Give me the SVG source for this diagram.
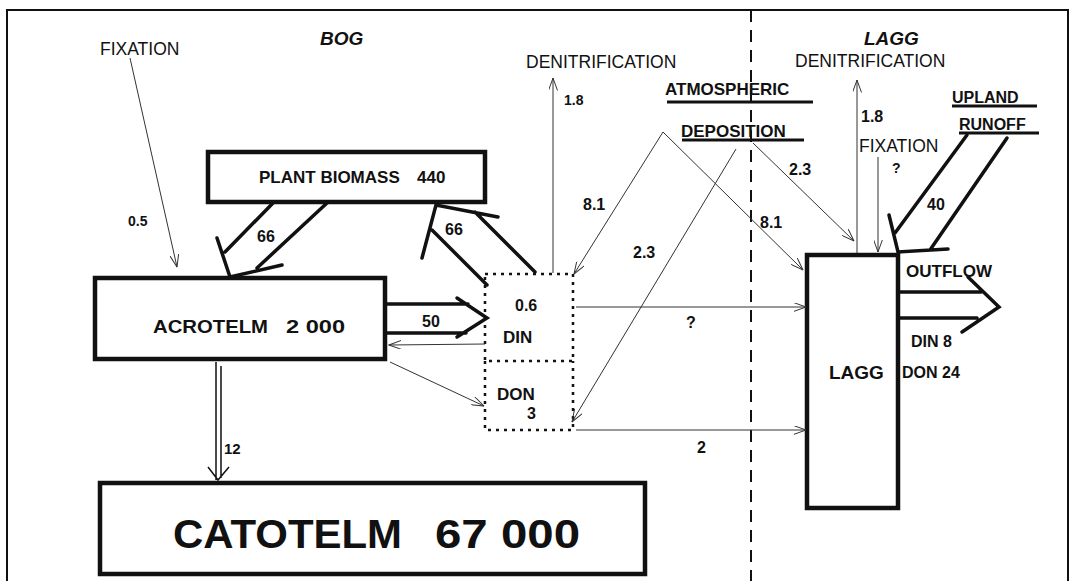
<svg xmlns="http://www.w3.org/2000/svg" width="1074" height="581" viewBox="0 0 1074 581">
<style>
text{font-family:"Liberation Sans",Arial,sans-serif;fill:#111;}
.b{font-weight:bold;}
.reg{font-size:17.5px;}
.title{font-weight:bold;font-style:italic;font-size:19px;}
.lbl{font-weight:bold;font-size:16px;}
.sm{font-weight:bold;font-size:14px;}
.box{fill:#fff;stroke:#111;stroke-width:4.5;}
.dot{fill:none;stroke:#111;stroke-width:2.5;stroke-dasharray:3 5;}
.thin{fill:none;stroke:#333;stroke-width:1;marker-end:url(#ah);}
.broad{fill:none;stroke:#111;stroke-width:3.5;stroke-linecap:round;}
.ul{stroke:#111;stroke-width:3;}
</style>
<defs>
<marker id="ah" viewBox="0 0 13 9" refX="12.5" refY="4.5" markerWidth="13" markerHeight="9" orient="auto" markerUnits="userSpaceOnUse">
<path d="M0,0 L12.5,4.5 L0,9" fill="none" stroke="#333" stroke-width="1"/>
</marker>
</defs>
<rect width="1074" height="581" fill="#fff"/>
<g id="frame">
<path d="M7,590 V10 H1068 V590" fill="none" stroke="#111" stroke-width="2"/>
<line x1="751" y1="10" x2="751" y2="581" stroke="#111" stroke-width="2" stroke-dasharray="12 8"/>
</g>
<g id="region-bog"><text class="title" x="320" y="45">BOG</text></g>
<g id="region-lagg"><text class="title" x="864" y="45">LAGG</text></g>
<g id="fixation-bog"><text class="reg" x="100" y="55">FIXATION</text></g>
<g id="denitrification-bog"><text class="reg" x="526" y="68">DENITRIFICATION</text></g>
<g id="denitrification-lagg"><text class="reg" x="795" y="67">DENITRIFICATION</text></g>
<g id="fixation-lagg"><text class="reg" x="859" y="152">FIXATION</text></g>
<g id="atmospheric-deposition">
<text class="b" font-size="17" x="665" y="95">ATMOSPHERIC</text>
<line class="ul" x1="667" y1="102" x2="813" y2="102"/>
<text class="b" font-size="17" x="681" y="137">DEPOSITION</text>
<line class="ul" x1="682" y1="140" x2="804" y2="140"/>
</g>
<g id="upland-runoff">
<text class="b" font-size="16" x="952" y="103">UPLAND</text>
<line class="ul" x1="952" y1="106" x2="1037" y2="106"/>
<text class="b" font-size="16" x="959" y="130">RUNOFF</text>
<line class="ul" x1="959" y1="133" x2="1039" y2="133"/>
</g>
<g id="plant-biomass">
<rect class="box" x="208" y="152" width="277" height="50"/>
<text class="b" font-size="17" x="259" y="183">PLANT BIOMASS<tspan x="417">440</tspan></text>
</g>
<g id="acrotelm">
<rect class="box" x="95" y="278" width="290" height="81"/>
<text class="b" font-size="19" x="153" y="333"><tspan textLength="115" lengthAdjust="spacingAndGlyphs">ACROTELM</tspan><tspan x="286" textLength="59" lengthAdjust="spacingAndGlyphs">2 000</tspan></text>
</g>
<g id="catotelm">
<rect class="box" x="100" y="483" width="545" height="91"/>
<text class="b" font-size="41" x="173" y="548"><tspan textLength="229" lengthAdjust="spacingAndGlyphs">CATOTELM</tspan><tspan x="435" textLength="145" lengthAdjust="spacingAndGlyphs">67 000</tspan></text>
</g>
<g id="din">
<rect class="dot" x="485" y="274" width="88" height="87"/>
<text class="lbl" x="515" y="311">0.6</text>
<text class="b" font-size="17" x="503" y="343">DIN</text>
</g>
<g id="don">
<path class="dot" d="M485,361 V430 H573 V361"/>
<text class="b" font-size="17" x="497" y="400">DON</text>
<text class="lbl" x="527" y="419">3</text>
</g>
<g id="lagg">
<rect class="box" x="807" y="255" width="91" height="253"/>
<text class="b" font-size="19" x="829" y="379">LAGG</text>
</g>
<g id="connectors">
<line class="thin" x1="130" y1="58" x2="177" y2="267"/>
<text class="sm" x="128" y="226">0.5</text>
<path class="broad" d="M273,203 L225,252 M327,203 L257,268 M217,238 L230,277 L282,265"/>
<text class="lbl" x="257" y="242">66</text>
<path class="broad" d="M487,285 L432,230 M535,272 L475,212 M422,258 L436,205 L498,217"/>
<text class="lbl" x="445" y="235">66</text>
<path fill="none" stroke="#111" stroke-width="1.5" d="M216,362 V480 M221,366 V478 M208,467 L218,480 L229,467"/>
<text class="b" font-size="15" x="224" y="454">12</text>
<path class="broad" d="M387,304 H468 M387,333 H466 M457,298 L487,318 L457,337"/>
<text class="lbl" x="422" y="327">50</text>
<line class="thin" x1="485" y1="344" x2="389" y2="345"/>
<line class="thin" x1="390" y1="362" x2="484" y2="406"/>
<line class="thin" x1="553" y1="273" x2="553" y2="78"/>
<text class="sm" x="564" y="105">1.8</text>
<line class="thin" x1="663" y1="132" x2="574" y2="274"/>
<text class="lbl" x="583" y="210">8.1</text>
<line class="thin" x1="663" y1="132" x2="803" y2="270"/>
<text class="lbl" x="760" y="228">8.1</text>
<line class="thin" x1="736" y1="149" x2="572" y2="422"/>
<text class="lbl" x="633" y="258">2.3</text>
<line class="thin" x1="753" y1="143" x2="854" y2="241"/>
<text class="lbl" x="789" y="175">2.3</text>
<line class="thin" x1="857" y1="253" x2="857" y2="80"/>
<text class="lbl" x="861" y="122">1.8</text>
<line class="thin" x1="878" y1="157" x2="878" y2="252"/>
<text class="sm" x="892" y="173">?</text>
<path class="broad" d="M967,135 L895,233 M1007,138 L930,250 M889,215 L898,252 L948,249"/>
<text class="lbl" x="927" y="210">40</text>
<path class="broad" d="M900,292 H981 M900,318 H977 M968,277 L999,307 L962,332"/>
<text class="b" font-size="17" x="906" y="277">OUTFLOW</text>
<text class="b" font-size="16" x="911" y="347">DIN 8</text>
<text class="b" font-size="16" x="902" y="378">DON 24</text>
<line class="thin" x1="576" y1="307" x2="806" y2="307"/>
<text class="lbl" x="686" y="328">?</text>
<line class="thin" x1="576" y1="430" x2="806" y2="430"/>
<text class="lbl" x="697" y="453">2</text>
</g>
</svg>
